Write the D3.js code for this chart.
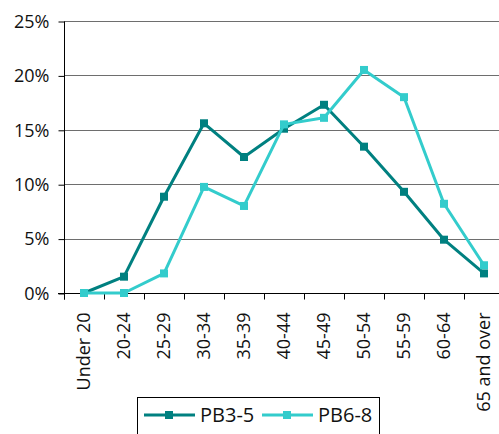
<!DOCTYPE html>
<html>
<head>
<meta charset="utf-8">
<script src="https://cdn.jsdelivr.net/npm/d3@7"></script>
<style>
  body { margin: 0; background: #fff; }
  svg { display: block; font-family: "Open Sans", sans-serif; }
</style>
</head>
<body>
<div id="chart"></div>
<script type="text/javascript">
// age groups
var categories = ["Under 20", "20-24", "25-29", "30-34", "35-39", "40-44",
                  "45-49", "50-54", "55-59", "60-64", "65 and over"];
// percent values
var pb35 = [0, 1.5, 8.85, 15.6, 12.5, 15.1, 17.3, 13.45, 9.3, 4.9, 1.8];
var pb68 = [0, 0, 1.8, 9.75, 8.0, 15.5, 16.1, 20.5, 18.0, 8.2, 2.55];
var yTicks = [0, 5, 10, 15, 20, 25];

var series = [
  {name: "PB3-5", values: pb35, color: "#008080"},
  {name: "PB6-8", values: pb68, color: "#33CCCC"}
];

var width = 499, height = 434;

var svg = d3.select("#chart").append("svg")
    .attr("width", width)
    .attr("height", height);

// set the ranges
var x = d3.scaleBand().domain(categories).range([64, 504]).padding(0);
var y = d3.scaleLinear().domain([0, 25]).range([293, 21]);

// gridlines
svg.append("g")
  .selectAll("line")
  .data(yTicks.slice(1))
  .enter().append("line")
    .attr("x1", 64).attr("x2", 504)
    .attr("y1", function(d) { return Math.round(y(d)) + 0.5; })
    .attr("y2", function(d) { return Math.round(y(d)) + 0.5; })
    .attr("stroke", "#6e6e6e")
    .attr("stroke-width", 1);

// y axis
var yAxis = svg.append("g")
    .attr("transform", "translate(64.5,0.5)")
    .call(d3.axisLeft(y).tickValues(yTicks).tickSize(6).tickPadding(9)
      .tickFormat(function(d) { return d + "%"; }));
yAxis.select(".domain").attr("d", "M0," + y(25) + "V" + (y(0) + 6));
yAxis.selectAll("text").attr("font-size", "18px").attr("fill", "#111")
    .attr("font-family", "Open Sans, sans-serif");

// x axis, ticks at band edges
var xAxis = svg.append("g")
    .attr("transform", "translate(0," + (Math.round(y(0)) + 0.5) + ")");
xAxis.append("line")
    .attr("x1", 58).attr("x2", 504)
    .attr("stroke", "#000");
var edges = categories.map(function(c) { return x(c); });
xAxis.selectAll("line.tick")
  .data(edges)
  .enter().append("line")
    .attr("class", "tick")
    .attr("x1", function(d) { return Math.round(d) + 0.5; })
    .attr("x2", function(d) { return Math.round(d) + 0.5; })
    .attr("y1", 0).attr("y2", 6)
    .attr("stroke", "#000");
xAxis.selectAll("text")
  .data(categories)
  .enter().append("text")
    .attr("transform", function(d) {
      return "translate(" + (x(d) + x.bandwidth() / 2 + 6) + ",19) rotate(-90)";
    })
    .attr("text-anchor", "end")
    .attr("font-size", "18px")
    .attr("fill", "#111")
    .text(function(d) { return d; });

// define the line
var valueline = d3.line()
    .x(function(d, i) { return x(categories[i]) + x.bandwidth() / 2; })
    .y(function(d) { return y(d); });

series.forEach(function(s) {
  svg.append("path")
      .datum(s.values)
      .attr("fill", "none")
      .attr("stroke", s.color)
      .attr("stroke-width", 3)
      .attr("stroke-linejoin", "round")
      .attr("d", valueline);
  svg.append("g")
    .selectAll("rect")
    .data(s.values)
    .enter().append("rect")
      .attr("x", function(d, i) { return x(categories[i]) + x.bandwidth() / 2 - 4; })
      .attr("y", function(d) { return y(d) - 4; })
      .attr("width", 8).attr("height", 8)
      .attr("fill", s.color);
});

// legend
var legend = svg.append("g");
legend.append("rect")
    .attr("x", 137.5).attr("y", 397.5)
    .attr("width", 242).attr("height", 50)
    .attr("fill", "#fff").attr("stroke", "#000");
var legendX = [144, 262];
series.forEach(function(s, i) {
  var lx = legendX[i], ly = 415;
  legend.append("line")
      .attr("x1", lx).attr("x2", lx + 51)
      .attr("y1", ly).attr("y2", ly)
      .attr("stroke", s.color).attr("stroke-width", 3);
  legend.append("rect")
      .attr("x", lx + 25 - 4).attr("y", ly - 4)
      .attr("width", 8).attr("height", 8)
      .attr("fill", s.color);
  legend.append("text")
      .attr("x", lx + 56).attr("y", ly + 7)
      .attr("font-size", "20px")
      .attr("fill", "#111")
      .text(s.name);
});
</script>
</body>
</html>
